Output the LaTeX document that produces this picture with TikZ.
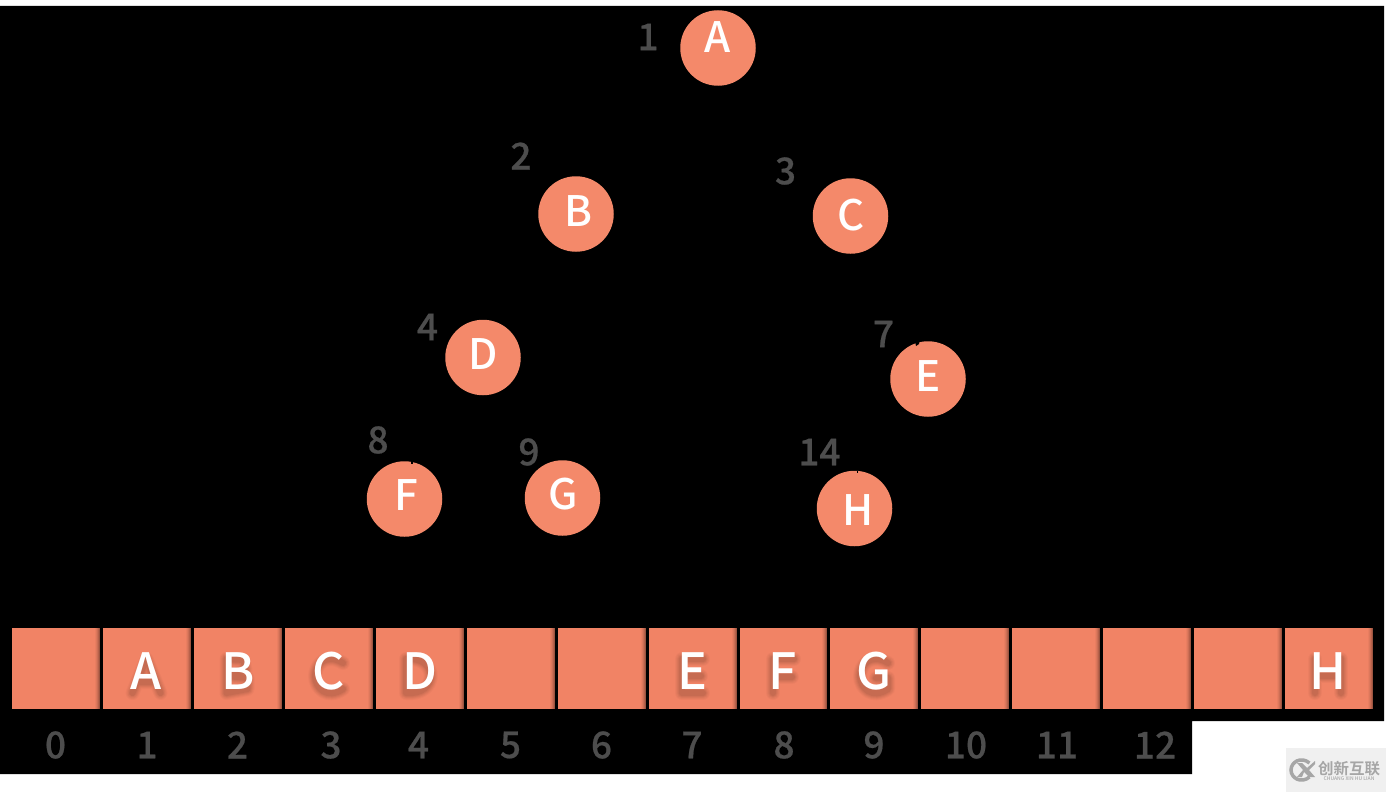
\documentclass[tikz,border=0pt]{standalone}
\usepackage{fontspec}
\setmainfont{Noto Sans CJK SC}[UprightFont=* Medium,BoldFont=* Bold]
\newfontfamily\numfont{Noto Sans CJK SC}[UprightFont=* Medium,FakeBold=0.5]
\usetikzlibrary{calc}
\definecolor{cellc}{HTML}{F18365}
\definecolor{circc}{HTML}{F4896A}
\definecolor{numc}{HTML}{4D4D4D}
\definecolor{wmbg}{HTML}{F0F0F0}
\definecolor{wmfg}{HTML}{A6A6A6}
% soft shadow under a cell letter, drawn as layered strokes
\newcommand{\softshadow}[3]{%
  \begin{scope}[shift={(#1,#2)},line cap=round,line join=round]
    \foreach \w/\op in {14/.025,12/.03,10/.035,8/.04,6/.05}{
      \draw[black,line width=\w pt,opacity=\op] #3;
    }
  \end{scope}
}
\newcommand{\cellbox}[3]{%
  \node[cellbox,minimum width=#2] (#3) at (#1,668.5) {};
  \foreach \w/\op in {1/.14,2/.10,3/.07,4/.05,5/.03}{
    \fill[black,opacity=\op] ($(#3.north east)+(-\w,0)$) rectangle (#3.south east);
  }
}
\tikzset{
  x=1pt,y=-1pt,
  every node/.style={inner sep=0pt,outer sep=0pt},
  treenode/.style={circle,fill=circc,minimum size=75.5pt},
  treelabel/.style={text=white,font=\fontsize{42}{42}\selectfont},
  treeidx/.style={text=numc,font=\numfont\fontsize{37}{37}\selectfont},
  arridx/.style={text=numc,font=\numfont\fontsize{37}{37}\selectfont},
  cellbox/.style={rectangle,fill=cellc,minimum height=81pt},
  celltext/.style={text=white,font=\fontsize{50}{50}\selectfont},
}
\begin{document}
\begin{tikzpicture}
\useasboundingbox (0,0) rectangle (1386,792);
\fill[white] (0,0) rectangle (1386,792);
\fill[black] (0,6) -- (1384,6) -- (1384,721) -- (1192,721) -- (1192,774) -- (0,774) -- cycle;
% tree
\node[treenode] (A) at (718,48) {}; \node[treelabel] (tA) at (718,37) {A};
\node[treenode] (B) at (576,214) {}; \node[treelabel] (tB) at (578.5,211) {B};
\node[treenode] (C) at (850.5,216) {}; \node[treelabel] (tC) at (851,215) {C};
\node[treenode] (D) at (483,357.5) {}; \node[treelabel] (tD) at (483.5,354) {D};
\node[treenode] (E) at (928,379) {}; \node[treelabel] (tE) at (928,376) {E};
\node[treenode] (F) at (404.5,499) {}; \node[treelabel] (tF) at (406,495) {F};
\node[treenode] (G) at (562.5,498) {}; \node[treelabel] (tG) at (563,494) {G};
\node[treenode] (H) at (854.5,508.5) {}; \node[treelabel] (tH) at (858,510) {H};
\fill[black] (915,341) -- (919.5,341) -- (919,344) -- (916,346) -- cycle;
\fill[black] (411,461) rectangle (413,463.5);
\fill[black] (857,471) rectangle (858,472.5);
% tree indices
\node[treeidx] (n1) at (648,37) {1};
\node[treeidx] (n2) at (521,156) {2};
\node[treeidx] (n3) at (785.5,171) {3};
\node[treeidx] (n4) at (427.5,327) {4};
\node[treeidx] (n7) at (883.5,334) {7};
\node[treeidx] (n8) at (378,440) {8};
\node[treeidx] (n9) at (529,452) {9};
\node[treeidx] (n14) at (819.5,452) {14};
% array
\cellbox{56}{88pt}{c0}
\cellbox{147}{88pt}{c1}
\cellbox{238}{88pt}{c2}
\cellbox{329}{88pt}{c3}
\cellbox{420}{88pt}{c4}
\cellbox{511}{88pt}{c5}
\cellbox{602}{88pt}{c6}
\cellbox{693}{88pt}{c7}
\cellbox{783.5}{87pt}{c8}
\cellbox{874}{88pt}{c9}
\cellbox{965}{88pt}{c10}
\cellbox{1056}{88pt}{c11}
\cellbox{1147}{88pt}{c12}
\cellbox{1238}{88pt}{c13}
\cellbox{1329}{88pt}{c14}
\softshadow{146.5}{676}{(-14,17)--(0,-17)--(14,17) (-9,6)--(9,6)}
\softshadow{237.5}{676}{(-11,17)--(-11,-17)--(6,-16)--(8,-6)--(-11,0)--(10,2)--(10,13)--(-11,17)}
\softshadow{329}{676}{(14,-13) .. controls (-4,-24) and (-14,-10) .. (-14,0) .. controls (-14,12) and (-2,24) .. (14,13)}
\softshadow{419}{676}{(-13,17)--(-13,-17) .. controls (20,-20) and (20,20) .. (-13,17)}
\softshadow{692}{676}{(11,-17)--(-10,-17)--(-10,17)--(11,17) (-10,0)--(9,0)}
\softshadow{783}{676}{(11,-17)--(-10,-17)--(-10,17) (-10,1)--(9,1)}
\softshadow{874}{676}{(14,-13) .. controls (-4,-24) and (-14,-10) .. (-14,0) .. controls (-14,12) and (-2,24) .. (14,13)--(14,2)--(2,2)}
\softshadow{1328}{676}{(-13,-17)--(-13,17) (13,-17)--(13,17) (-13,0)--(13,0)}
\node[celltext] (vA) at (146.5,671) {A};
\node[celltext] (vB) at (238,671) {B};
\node[celltext] (vC) at (329,671) {C};
\node[celltext] (vD) at (419.5,671) {D};
\node[celltext] (vE) at (692,671) {E};
\node[celltext] (vF) at (783,671) {F};
\node[celltext] (vG) at (874,671) {G};
\node[celltext] (vH) at (1328,671) {H};
% array indices
\node[arridx] (i0) at (55.5,745) {0};
\node[arridx] (i1) at (147,745) {1};
\node[arridx] (i2) at (237.5,745) {2};
\node[arridx] (i3) at (331,745) {3};
\node[arridx] (i4) at (418.5,745) {4};
\node[arridx] (i5) at (510.5,745) {5};
\node[arridx] (i6) at (601.5,745) {6};
\node[arridx] (i7) at (692,745) {7};
\node[arridx] (i8) at (784,745) {8};
\node[arridx] (i9) at (874,745) {9};
\node[arridx] (i10) at (966,745) {10};
\node[arridx] (i11) at (1057,745) {11};
\node[arridx] (i12) at (1155,745) {12};
% watermark
\fill[wmbg] (1286,748) rectangle (1386,792);
\draw[wmfg,line width=3.5pt] (1309.5,763) .. controls (1301,756) and (1291,762) .. (1291,770) .. controls (1291,778) and (1301,784) .. (1309.5,777);
\fill[wmfg] (1297,763) -- (1302,763) -- (1307,768) -- (1315,761) -- (1315,764) -- (1309,770) -- (1315,777) -- (1309,777) -- (1304,772) -- (1302,777) -- (1297,777) -- (1303,770) -- cycle;
\node[text=wmfg,font=\bfseries\fontsize{15.5}{16}\selectfont] (wm1) at (1349,768.5) {创新互联};
\node[text=wmfg,font=\fontsize{5}{5}\selectfont] (wm2) at (1349,779) {CHUANG XIN HU LIAN};
\end{tikzpicture}
\end{document}
